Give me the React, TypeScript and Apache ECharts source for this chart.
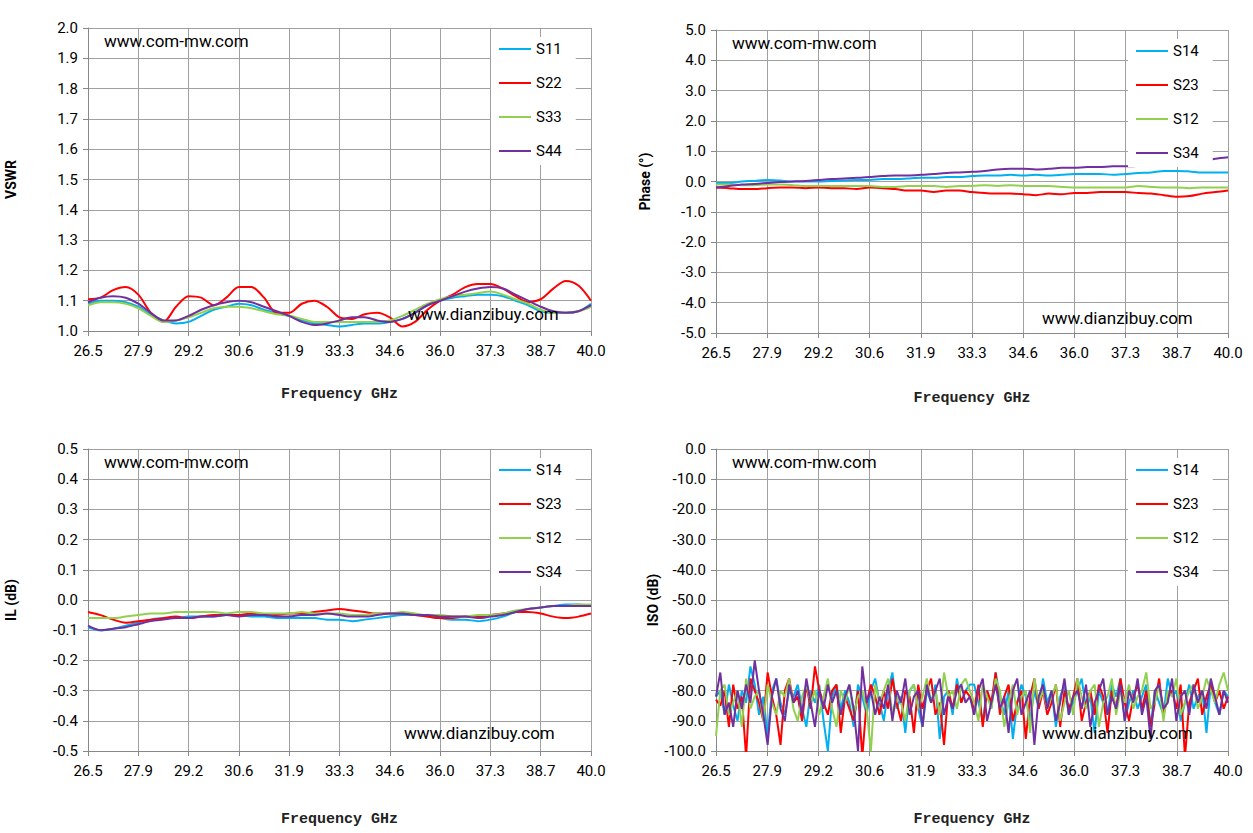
import React, { useEffect, useRef } from 'react';
import * as echarts from 'echarts';

const freqLabels = ['26.5', '27.9', '29.2', '30.6', '31.9', '33.3', '34.6', '36.0', '37.3', '38.7', '40.0'];

// VSWR
const vswrS11 = [1.09,1.10,1.10,1.095,1.08,1.055,1.035,1.025,1.03,1.05,1.07,1.08,1.09,1.085,1.07,1.06,1.05,1.035,1.025,1.02,1.015,1.02,1.025,1.025,1.03,1.04,1.06,1.085,1.10,1.11,1.115,1.12,1.12,1.115,1.10,1.085,1.065,1.06,1.06,1.065,1.09];
const vswrS22 = [1.105,1.11,1.135,1.145,1.12,1.06,1.03,1.08,1.115,1.11,1.085,1.11,1.145,1.145,1.11,1.06,1.06,1.09,1.10,1.08,1.045,1.04,1.055,1.06,1.045,1.015,1.03,1.07,1.10,1.12,1.145,1.155,1.155,1.14,1.115,1.095,1.105,1.14,1.165,1.15,1.10];
const vswrS33 = [1.085,1.095,1.095,1.09,1.075,1.05,1.03,1.035,1.045,1.06,1.075,1.08,1.08,1.075,1.065,1.055,1.05,1.04,1.03,1.03,1.03,1.03,1.03,1.03,1.035,1.05,1.07,1.09,1.105,1.115,1.12,1.125,1.13,1.12,1.105,1.09,1.07,1.06,1.06,1.065,1.08];
const vswrS44 = [1.095,1.11,1.115,1.11,1.09,1.06,1.035,1.035,1.05,1.07,1.085,1.095,1.10,1.095,1.08,1.065,1.05,1.03,1.02,1.025,1.035,1.045,1.045,1.035,1.03,1.04,1.06,1.085,1.10,1.115,1.13,1.14,1.145,1.14,1.12,1.10,1.08,1.065,1.06,1.065,1.085];

// Phase
const phS14 = [-0.05,-0.05,0,0.02,0.05,0.03,0,0,0,0.02,0.03,0.05,0.05,0.08,0.08,0.1,0.12,0.12,0.15,0.15,0.18,0.2,0.2,0.22,0.2,0.22,0.2,0.22,0.25,0.25,0.25,0.22,0.25,0.28,0.3,0.35,0.35,0.33,0.3,0.3,0.3];
const phS23 = [-0.2,-0.22,-0.25,-0.25,-0.22,-0.2,-0.2,-0.22,-0.2,-0.22,-0.22,-0.25,-0.2,-0.22,-0.25,-0.3,-0.3,-0.35,-0.3,-0.3,-0.35,-0.38,-0.4,-0.4,-0.42,-0.45,-0.4,-0.42,-0.38,-0.38,-0.35,-0.35,-0.35,-0.38,-0.4,-0.45,-0.5,-0.48,-0.4,-0.35,-0.3];
const phS12 = [-0.1,-0.1,-0.12,-0.12,-0.1,-0.1,-0.12,-0.15,-0.15,-0.15,-0.15,-0.15,-0.15,-0.18,-0.18,-0.15,-0.15,-0.15,-0.18,-0.15,-0.15,-0.12,-0.15,-0.12,-0.15,-0.15,-0.15,-0.18,-0.2,-0.2,-0.2,-0.2,-0.2,-0.15,-0.18,-0.2,-0.2,-0.22,-0.2,-0.2,-0.2];
const phS34 = [-0.2,-0.15,-0.1,-0.08,-0.05,-0.02,0,0.02,0.05,0.08,0.1,0.12,0.15,0.18,0.2,0.2,0.22,0.25,0.28,0.3,0.32,0.35,0.4,0.42,0.42,0.4,0.42,0.45,0.45,0.48,0.48,0.5,0.5,0.52,0.55,0.58,0.6,0.62,0.65,0.75,0.8];

// IL
const ilS14 = [-0.09,-0.1,-0.095,-0.085,-0.075,-0.065,-0.06,-0.06,-0.055,-0.055,-0.055,-0.05,-0.05,-0.055,-0.055,-0.06,-0.06,-0.06,-0.06,-0.065,-0.065,-0.07,-0.065,-0.06,-0.055,-0.05,-0.05,-0.055,-0.06,-0.065,-0.065,-0.07,-0.065,-0.055,-0.04,-0.03,-0.025,-0.02,-0.015,-0.015,-0.02];
const ilS23 = [-0.04,-0.05,-0.065,-0.075,-0.07,-0.065,-0.06,-0.055,-0.06,-0.055,-0.05,-0.05,-0.05,-0.045,-0.05,-0.05,-0.045,-0.045,-0.04,-0.035,-0.03,-0.035,-0.04,-0.045,-0.045,-0.045,-0.05,-0.055,-0.06,-0.06,-0.055,-0.055,-0.05,-0.045,-0.04,-0.04,-0.045,-0.055,-0.06,-0.055,-0.045];
const ilS12 = [-0.06,-0.06,-0.06,-0.055,-0.05,-0.045,-0.045,-0.04,-0.04,-0.04,-0.04,-0.045,-0.04,-0.04,-0.045,-0.045,-0.045,-0.04,-0.045,-0.045,-0.045,-0.05,-0.05,-0.045,-0.045,-0.04,-0.045,-0.05,-0.05,-0.055,-0.055,-0.05,-0.05,-0.045,-0.035,-0.03,-0.025,-0.02,-0.02,-0.015,-0.015];
const ilS34 = [-0.085,-0.1,-0.095,-0.09,-0.08,-0.07,-0.065,-0.06,-0.06,-0.055,-0.055,-0.05,-0.055,-0.05,-0.05,-0.055,-0.055,-0.05,-0.05,-0.045,-0.05,-0.055,-0.055,-0.05,-0.045,-0.045,-0.05,-0.05,-0.055,-0.055,-0.055,-0.06,-0.055,-0.05,-0.04,-0.03,-0.025,-0.02,-0.02,-0.02,-0.02];

// ISO
const isoS14 = [-82,-80,-88,-78,-85,-90,-80,-84,-72,-78,-88,-82,-95,-80,-76,-84,-88,-80,-82,-78,-86,-92,-80,-84,-78,-90,-100,-82,-78,-86,-80,-84,-92,-78,-82,-88,-80,-76,-84,-90,-80,-74,-86,-82,-94,-80,-78,-86,-92,-80,-84,-78,-96,-82,-80,-88,-76,-84,-80,-78,
    -78,-84,-90,-80,-86,-74,-82,-88,-80,-96,-84,-78,-82,-90,-80,-86,-76,-84,-80,-92,-82,-78,-88,-84,-80,-76,-86,-82,-94,-80,-84,-88,-78,-82,-76,-90,-84,-80,-86,-82,-78,-92,-80,-84,-88,-76,-82,-80,-90,-84,-78,-86,-82,-80,-94,-78,-84,-88,-80,-82];
const isoS23 = [-83,-85,-80,-92,-78,-86,-82,-102,-76,-80,-84,-90,-74,-82,-88,-98,-80,-76,-84,-82,-90,-78,-86,-72,-80,-84,-88,-80,-78,-94,-82,-86,-90,-80,-102,-84,-78,-82,-88,-80,-86,-76,-84,-90,-80,-82,-94,-78,-86,-80,-76,-88,-84,-98,-80,-86,-78,-84,-80,-82,
    -86,-78,-92,-80,-84,-74,-88,-82,-78,-90,-84,-80,-96,-82,-76,-86,-80,-88,-84,-78,-92,-80,-86,-82,-76,-90,-84,-80,-88,-78,-82,-94,-80,-86,-76,-84,-90,-82,-78,-86,-80,-92,-84,-76,-88,-82,-80,-86,-78,-102,-84,-80,-76,-88,-82,-78,-84,-80,-86,-82];
const isoS12 = [-95,-80,-78,-88,-84,-80,-92,-76,-86,-82,-80,-90,-78,-84,-88,-80,-82,-76,-86,-90,-82,-78,-84,-80,-88,-82,-76,-86,-92,-80,-84,-78,-88,-82,-80,-86,-100,-78,-84,-80,-76,-88,-82,-84,-90,-80,-78,-86,-82,-76,-84,-80,-88,-74,-82,-80,-86,-78,-76,-80,
    -84,-90,-78,-82,-86,-76,-80,-92,-84,-78,-88,-82,-80,-94,-76,-84,-80,-86,-82,-78,-90,-84,-80,-88,-76,-82,-86,-80,-78,-92,-84,-82,-76,-88,-80,-84,-78,-86,-82,-80,-74,-86,-84,-78,-90,-80,-82,-76,-88,-84,-80,-78,-86,-82,-76,-80,-84,-78,-74,-80];
const isoS34 = [-82,-74,-88,-84,-92,-80,-86,-78,-84,-70,-80,-88,-98,-82,-76,-86,-90,-78,-84,-80,-88,-76,-84,-92,-80,-86,-78,-84,-80,-88,-82,-78,-86,-100,-72,-84,-80,-88,-82,-86,-78,-90,-80,-84,-76,-88,-82,-80,-92,-78,-84,-80,-76,-88,-82,-86,-80,-78,-84,-82,
    -88,-80,-76,-90,-84,-78,-86,-82,-94,-80,-76,-88,-84,-80,-98,-82,-78,-86,-80,-90,-84,-76,-88,-82,-80,-86,-78,-92,-84,-80,-76,-88,-82,-86,-78,-90,-80,-84,-76,-88,-82,-96,-80,-78,-86,-84,-76,-90,-82,-80,-88,-78,-84,-80,-86,-76,-82,-88,-80,-84];

const BLUE = '#00b0f0';
const RED = '#ff0000';
const GREEN = '#92d050';
const PURPLE = '#7030a0';
const FONT = 'Roboto, "Liberation Sans", sans-serif';

const grids = [
    { left: 88, top: 28, width: 503, height: 303 },
    { left: 716, top: 30, width: 512, height: 303 },
    { left: 88, top: 449, width: 503, height: 302 },
    { left: 716, top: 449, width: 512, height: 302 },
];

const yCfg = [
    { name: 'VSWR', min: 1, max: 2, interval: 0.1, digits: 1, gap: 70 },
    { name: 'Phase (°)', min: -5, max: 5, interval: 1, digits: 1, gap: 64 },
    { name: 'IL (dB)', min: -0.5, max: 0.5, interval: 0.1, digits: 1, gap: 70 },
    { name: 'ISO (dB)', min: -100, max: 0, interval: 10, digits: 1, gap: 54 },
];

const chartSeries = [
    [['S11', BLUE, vswrS11], ['S22', RED, vswrS22], ['S33', GREEN, vswrS33], ['S44', PURPLE, vswrS44]],
    [['S14', BLUE, phS14], ['S23', RED, phS23], ['S12', GREEN, phS12], ['S34', PURPLE, phS34]],
    [['S14', BLUE, ilS14], ['S23', RED, ilS23], ['S12', GREEN, ilS12], ['S34', PURPLE, ilS34]],
    [['S14', BLUE, isoS14], ['S23', RED, isoS23], ['S12', GREEN, isoS12], ['S34', PURPLE, isoS34]],
];

const toXY = (vals: number[]) => vals.map((v, i) => [(i * 10) / (vals.length - 1), v]);

export default function App() {
    const ref = useRef<HTMLDivElement | null>(null);

    useEffect(() => {
        if (!ref.current) return;
        const chart = echarts.init(ref.current, null, { renderer: 'svg' });

        const series: any[] = [];
        chartSeries.forEach((list, gi) => {
            list.forEach(([name, color, vals]: any) => {
                series.push({
                    name,
                    type: 'line',
                    xAxisIndex: gi,
                    yAxisIndex: gi,
                    data: toXY(vals),
                    symbol: 'none',
                    smooth: gi === 3 ? false : 0.3,
                    lineStyle: { color, width: 2 },
                    itemStyle: { color },
                    z: 2,
                });
            });
        });

        const option = {
            animation: false,
            backgroundColor: '#fff',
            grid: grids,
            xAxis: grids.map((_, gi) => ({
                type: 'value',
                gridIndex: gi,
                min: 0,
                max: 10,
                interval: 1,
                name: 'Frequency GHz',
                nameLocation: 'middle',
                nameGap: gi < 2 ? (gi === 0 ? 56 : 58) : 61,
                nameTextStyle: { fontFamily: '"Liberation Mono", monospace', fontWeight: 'bold', fontSize: 15, color: '#222' },
                axisLine: { show: true, onZero: false, lineStyle: { color: '#888' } },
                axisTick: { show: true, length: 5, lineStyle: { color: '#888' } },
                splitLine: { show: true, lineStyle: { color: '#a0a0a0', width: 1 } },
                axisLabel: { color: '#000', fontSize: 15, fontFamily: FONT, margin: 12, formatter: (v: number) => freqLabels[Math.round(v)] },
            })),
            yAxis: yCfg.map((c, gi) => ({
                type: 'value',
                gridIndex: gi,
                min: c.min,
                max: c.max,
                interval: c.interval,
                name: c.name,
                nameLocation: 'middle',
                nameGap: c.gap,
                nameTextStyle: { fontFamily: FONT, fontWeight: 'bold', fontSize: 14, color: '#000' },
                axisLine: { show: true, lineStyle: { color: '#888' } },
                axisTick: { show: true, length: 5, lineStyle: { color: '#888' } },
                splitLine: { show: true, lineStyle: { color: '#a0a0a0', width: 1 } },
                axisLabel: { color: '#000', fontSize: 15, fontFamily: FONT, margin: 10, formatter: (v: number) => v.toFixed(c.digits) },
            })),
            legend: grids.map((g, gi) => ({
                data: chartSeries[gi].map((s: any) => s[0]),
                orient: 'vertical',
                left: g.left + g.width - 100,
                top: g.top + 9,
                backgroundColor: '#fff',
                padding: [2, 14, 4, 8],
                icon: 'rect',
                itemWidth: 32,
                itemHeight: 2,
                itemGap: 14,
                selectedMode: false,
                textStyle: { fontFamily: FONT, fontSize: 15, color: '#000', lineHeight: 20 },
                z: 5,
            })),
            graphic: [
                ...grids.map((g) => ({
                    type: 'text', left: g.left + 16, top: g.top + 4, z: 10,
                    style: { text: 'www.com-mw.com', font: `17px ${FONT}`, fill: '#000' },
                })),
                { type: 'text', left: 408, top: 305, z: 10, style: { text: 'www.dianzibuy.com', font: `17px ${FONT}`, fill: '#000' } },
                { type: 'text', left: 1042, top: 309, z: 10, style: { text: 'www.dianzibuy.com', font: `17px ${FONT}`, fill: '#000' } },
                { type: 'text', left: 404, top: 724, z: 10, style: { text: 'www.dianzibuy.com', font: `17px ${FONT}`, fill: '#000' } },
                { type: 'text', left: 1042, top: 724, z: 10, style: { text: 'www.dianzibuy.com', font: `17px ${FONT}`, fill: '#000' } },
            ],
            series,
        };

        chart.setOption(option);
        return () => {
            chart.dispose();
        };
    }, []);

    return <div ref={ref} style={{ position: 'fixed', left: 0, top: 0, width: '1253px', height: '833px' }} />;
}
